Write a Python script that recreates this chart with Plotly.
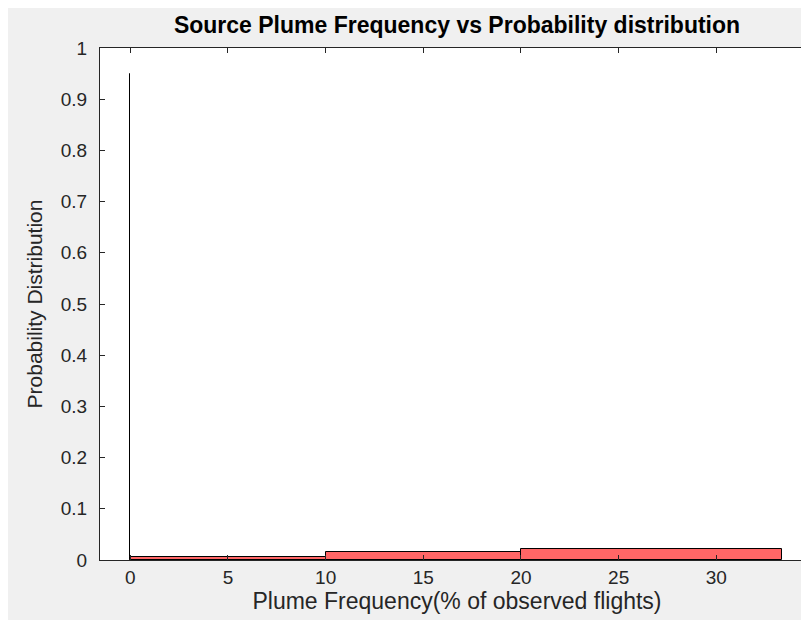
import plotly.graph_objects as go
import numpy as np

# histogram bins (left/right edges) and probability heights
bin_left = [0, 0, 10, 20]
bin_right = [0, 10, 20, 33.35]
prob = [0.95, 0.006, 0.015, 0.022]

x_ticks = [0, 5, 10, 15, 20, 25, 30]
y_ticks = [0, 0.1, 0.2, 0.3, 0.4, 0.5, 0.6, 0.7, 0.8, 0.9, 1]

FONT = "Liberation Sans"
AXIS_COLOR = "#262626"

left = np.array(bin_left, dtype=float)
right = np.array(bin_right, dtype=float)
widths = right - left
# zero-width bin (spike) still needs a visible line
widths = np.where(widths <= 0, 0.01, widths)
centers = left + widths / 2
colors = ["#000000" if w < 0.1 else "#ff6666" for w in widths]

fig = go.Figure()
fig.add_trace(go.Bar(
    x=centers, y=prob, width=widths,
    marker=dict(color=colors, line=dict(color="#000000", width=1)),
    showlegend=False, hoverinfo="skip"))

fig.update_layout(
    width=809, height=620,
    paper_bgcolor="#f0f0f0", plot_bgcolor="#ffffff",
    margin=dict(l=92, r=3, t=40, b=68),
    font=dict(family=FONT, color=AXIS_COLOR),
    bargap=0,
    title=dict(text="<b>Source Plume Frequency vs Probability distribution</b>",
               x=0.5, xref="paper", xanchor="center",
               y=1 - 17 / 620, yref="container", yanchor="middle",
               font=dict(family=FONT, size=23, color="#000000")),
)
fig.update_xaxes(
    range=[-1.55, 35], tickvals=x_ticks, ticktext=[str(t) for t in x_ticks],
    ticks="inside", ticklen=5, tickcolor=AXIS_COLOR,
    showline=True, linecolor=AXIS_COLOR, linewidth=1, mirror="ticks",
    showgrid=False, zeroline=False,
    tickfont=dict(size=19, color=AXIS_COLOR),
    title=dict(text="Plume Frequency(% of observed flights)",
               font=dict(size=23, color=AXIS_COLOR), standoff=5))
fig.update_yaxes(
    range=[0, 1], tickvals=y_ticks, ticktext=[f"{t:g}" for t in y_ticks],
    ticks="inside", ticklen=5, tickcolor=AXIS_COLOR,
    showline=True, linecolor=AXIS_COLOR, linewidth=1, mirror="ticks",
    showgrid=False, zeroline=False, ticklabelstandoff=8,
    tickfont=dict(size=19, color=AXIS_COLOR),
    title=dict(text="Probability Distribution",
               font=dict(size=21, color=AXIS_COLOR), standoff=12))

fig.write_html("out.html")
